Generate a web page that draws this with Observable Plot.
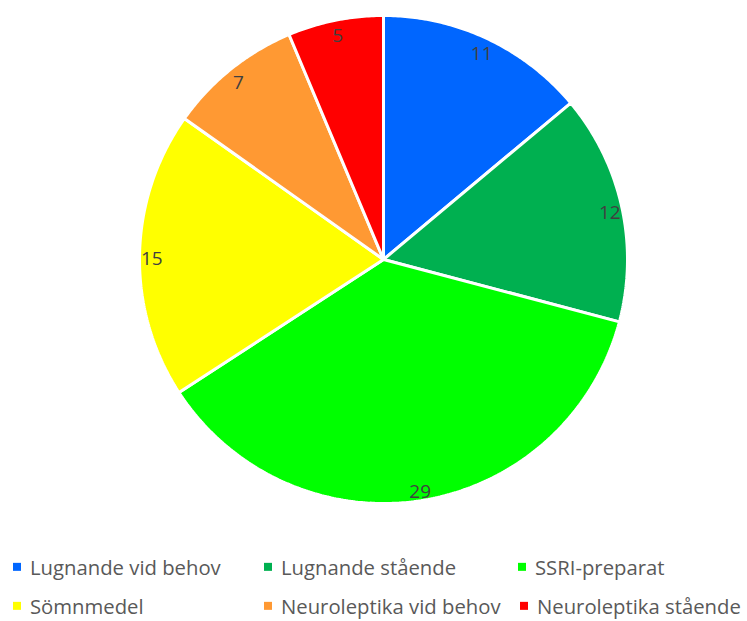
<!DOCTYPE html>
<html>
<head>
<meta charset="utf-8">
<script src="https://cdn.jsdelivr.net/npm/d3@7"></script>
<script src="https://cdn.jsdelivr.net/npm/@observablehq/plot@0.6"></script>
<style>
  body { margin: 0; background: #fff; font-family: "Open Sans", sans-serif; }
  #chart { position: relative; width: 747px; height: 520px; }
  #chart svg { display: block; }
  #legend { position: relative; width: 747px; height: 101px; }
  .item { position: absolute; display: flex; align-items: center; font-size: 20.3px; line-height: 1; color: #595959; white-space: nowrap; transform: translateY(-50%); }
  .sw { width: 8px; height: 8px; margin-right: 9px; }
</style>
</head>
<body>
<div id="chart"></div>
<div id="legend"></div>
<script>
// Medication categories and counts
const categories = ["Lugnande vid behov", "Lugnande stående", "SSRI-preparat", "Sömnmedel", "Neuroleptika vid behov", "Neuroleptika stående"];
const counts = [11, 12, 29, 15, 7, 5];
const colors = ["#0066FF", "#00B050", "#00FF00", "#FFFF00", "#FF9933", "#FF0000"];

const data = categories.map((name, i) => ({name, value: counts[i]}));

// Slice angles, clockwise from 12 o'clock
const arcs = d3.pie().sort(null).value(d => d.value)(data);

// Each slice becomes a closed polygon in a unit-circle coordinate space
const slicePoints = [];
arcs.forEach(a => {
  const steps = Math.max(8, Math.ceil((a.endAngle - a.startAngle) / 0.01));
  slicePoints.push({name: a.data.name, x: 0, y: 0});
  for (let k = 0; k <= steps; k++) {
    const t = a.startAngle + (a.endAngle - a.startAngle) * k / steps;
    slicePoints.push({name: a.data.name, x: Math.sin(t), y: Math.cos(t)});
  }
  slicePoints.push({name: a.data.name, x: 0, y: 0});
});

// Value labels just inside the outer edge
const labelR = 0.95;
const labels = arcs.map(a => {
  const m = (a.startAngle + a.endAngle) / 2;
  return {name: a.data.name, value: a.data.value, x: labelR * Math.sin(m), y: labelR * Math.cos(m)};
});

const chart = Plot.plot({
  width: 747,
  height: 520,
  marginLeft: 139,
  marginRight: 120,
  marginTop: 15,
  marginBottom: 17,
  x: {domain: [-1, 1], axis: null},
  y: {domain: [-1, 1], axis: null},
  color: {domain: categories, range: colors},
  style: {fontFamily: "'Open Sans', sans-serif", background: "#fff"},
  marks: [
    Plot.line(slicePoints, {x: "x", y: "y", z: "name", fill: "name", stroke: "white", strokeWidth: 3, strokeLinejoin: "miter", curve: "linear"}),
    Plot.text(labels, {x: "x", y: "y", dy: 4, text: d => String(d.value), fill: "#404040", fontSize: 19})
  ]
});
document.getElementById("chart").append(chart);

// Legend laid out in two rows below the pie
const legendPos = [
  {x: 13, y: 47}, {x: 264, y: 47}, {x: 518, y: 47},
  {x: 13, y: 86}, {x: 264, y: 86}, {x: 520, y: 86}
];
const legend = document.getElementById("legend");
categories.forEach((name, i) => {
  const item = document.createElement("div");
  item.className = "item";
  item.style.left = legendPos[i].x + "px";
  item.style.top = legendPos[i].y + "px";
  const sw = document.createElement("span");
  sw.className = "sw";
  sw.style.background = colors[i];
  item.append(sw, document.createTextNode(name));
  legend.append(item);
});
</script>
</body>
</html>
